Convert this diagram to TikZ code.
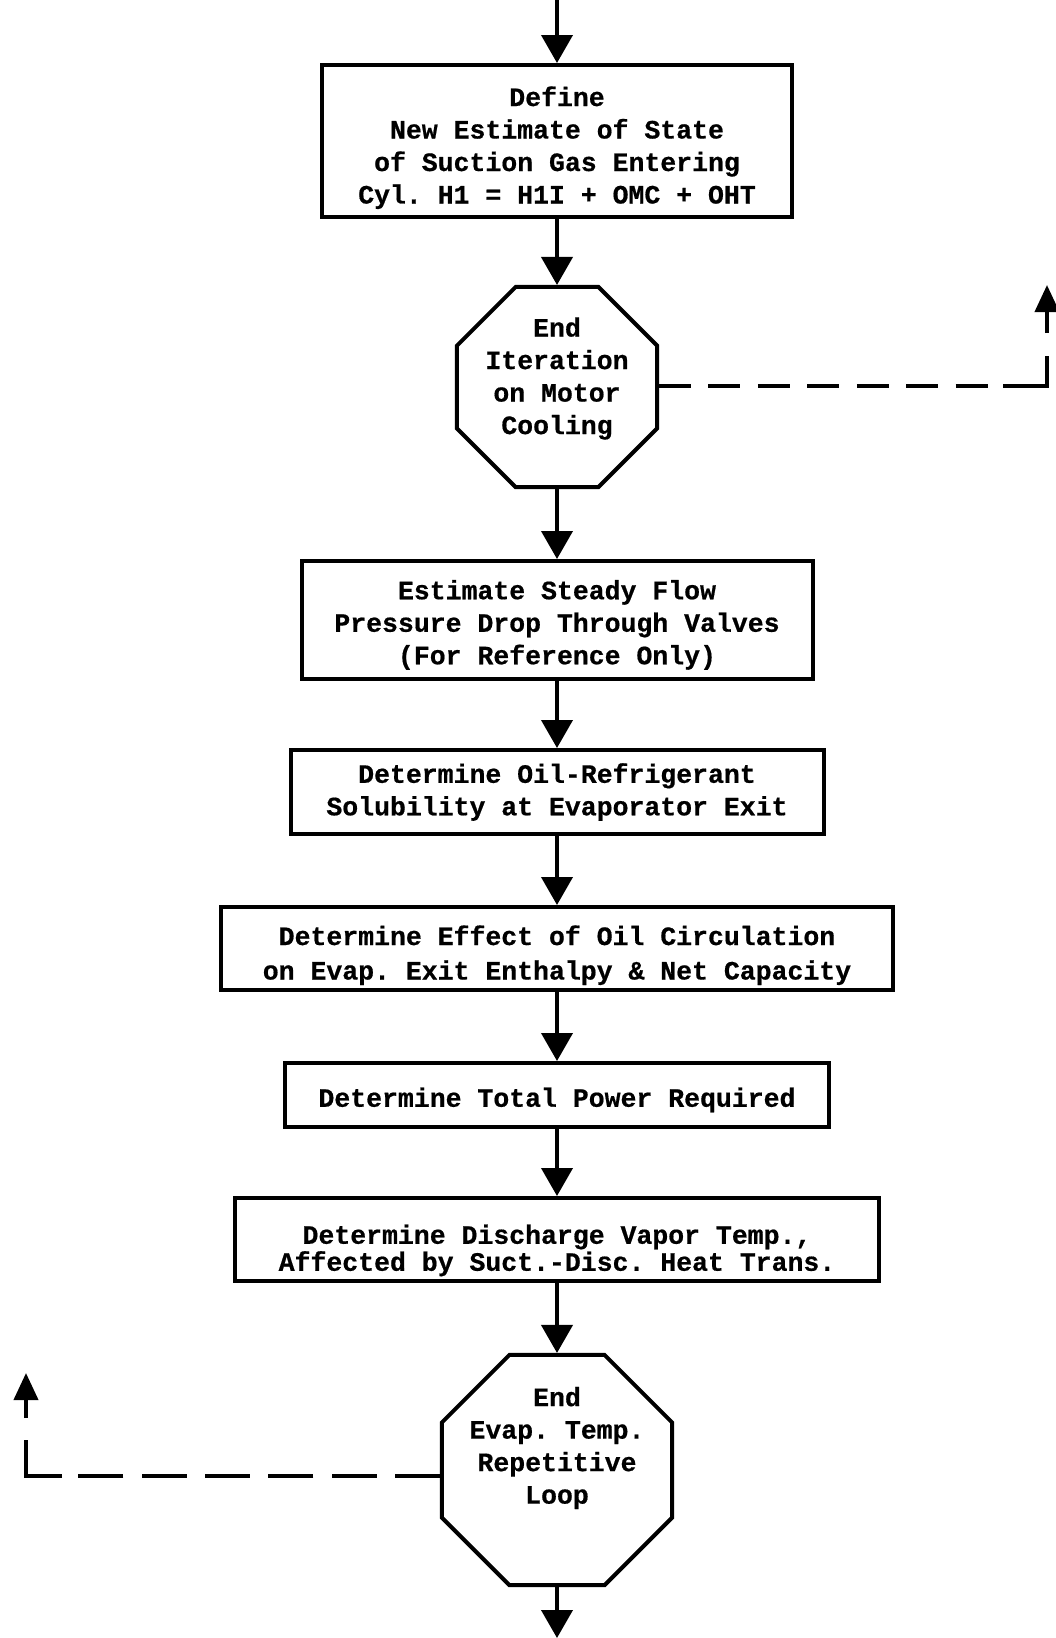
\documentclass[tikz,border=0pt]{standalone}
\usepackage{fontspec}
\setmonofont{Liberation Mono}[BoldFeatures={FakeBold=0.6}]
\usetikzlibrary{arrows.meta,shapes.geometric}
% strut that lifts the first line's height, pushing a text block down
\newcommand\toppad[1]{\rule{0pt}{#1}}

\begin{document}
\begin{tikzpicture}[x=1pt,y=-1pt,
  txt/.style={font=\ttfamily\bfseries\fontsize{26.5}{32.5}\selectfont},
  stepbox/.style={draw,line width=4pt,rectangle,align=center,inner sep=0pt,txt},
  octa/.style={draw,line width=4pt,regular polygon,regular polygon sides=8,inner sep=0pt},
  octtext/.style={align=center,inner sep=0pt,txt},
  flow/.style={line width=4pt,-{Triangle[width=31pt,length=28pt]}},
  back/.style={line width=4pt,-{Triangle[width=24pt,length=27pt]}},
  solid line/.style={line width=4pt},
  loopright/.style={line width=4pt,dash pattern=on 32pt off 17.43pt},
  loopleft/.style={line width=4pt,dash pattern=on 45pt off 18.33pt}
]
\useasboundingbox (0,0) rectangle (1056,1638);

% process steps
\node[stepbox,minimum width=470pt,minimum height=152pt] (define) at (557,141)
  {\toppad{33pt}Define\\New Estimate of State\\of Suction Gas Entering\\Cyl. H1 = H1I + OMC + OHT};

\node[octa,minimum size=216.5pt] (motor) at (557,387) {};
\node[octtext] (motortext) at (557,378.5) {End\\Iteration\\on Motor\\Cooling};

\node[stepbox,minimum width=511pt,minimum height=118pt] (valves) at (557,620)
  {\toppad{29pt}Estimate Steady Flow\\Pressure Drop Through Valves\\(For Reference Only)};

\node[stepbox,minimum width=533pt,minimum height=84pt] (solub) at (557,792)
  {Determine Oil-Refrigerant\\Solubility at Evaporator Exit};

\node[stepbox,minimum width=672pt,minimum height=83pt,
      font=\ttfamily\bfseries\fontsize{26.5}{34.5}\selectfont] (oilcirc) at (557,948.5)
  {\toppad{33pt}Determine Effect of Oil Circulation\\on Evap. Exit Enthalpy \& Net Capacity};

\node[stepbox,minimum width=544pt,minimum height=64pt] (power) at (557,1095)
  {\toppad{29pt}Determine Total Power Required};

\node[stepbox,minimum width=644pt,minimum height=83pt,
      font=\ttfamily\bfseries\fontsize{26.5}{27}\selectfont] (discharge) at (557,1239.5)
  {\toppad{41pt}Determine Discharge Vapor Temp.,\\Affected by Suct.-Disc. Heat Trans.};

\node[octa,minimum size=249pt] (evap) at (557,1470) {};
\node[octtext] (evaptext) at (557,1448) {End\\Evap. Temp.\\Repetitive\\Loop};

% main flow
\coordinate (entry) at (557,0);
\coordinate (exit) at (557,1638);
\draw[flow] (entry) -- (define.north);
\draw[flow] (define.south) -- (motor.north);
\draw[flow] (motor.south) -- (valves.north);
\draw[flow] (valves.south) -- (solub.north);
\draw[flow] (solub.south) -- (oilcirc.north);
\draw[flow] (oilcirc.south) -- (power.north);
\draw[flow] (power.south) -- (discharge.north);
\draw[flow] (discharge.south) -- (evap.north);
\draw[flow] (evap.south) -- (exit);

% motor cooling iteration return (right)
\coordinate (rbend) at (1003,386);
\coordinate (rcorner) at (1047,386);
\coordinate (rstop) at (1047,356);
\coordinate (rstart) at (1047,333);
\coordinate (rtip) at (1047,285);
\draw[loopright] (motor.east |- rbend) -- (rbend);
\draw[solid line] (rbend) -- (rcorner) -- (rstop);
\draw[back] (rstart) -- (rtip);

% evaporator temperature loop return (left)
\coordinate (lbend) at (62,1476);
\coordinate (lcorner) at (26,1476);
\coordinate (lstop) at (26,1440);
\coordinate (lstart) at (26,1418);
\coordinate (ltip) at (26,1373);
\draw[loopleft] (evap.west |- lbend) -- (lbend);
\draw[solid line] (lbend) -- (lcorner) -- (lstop);
\draw[back] (lstart) -- (ltip);
\end{tikzpicture}
\end{document}
